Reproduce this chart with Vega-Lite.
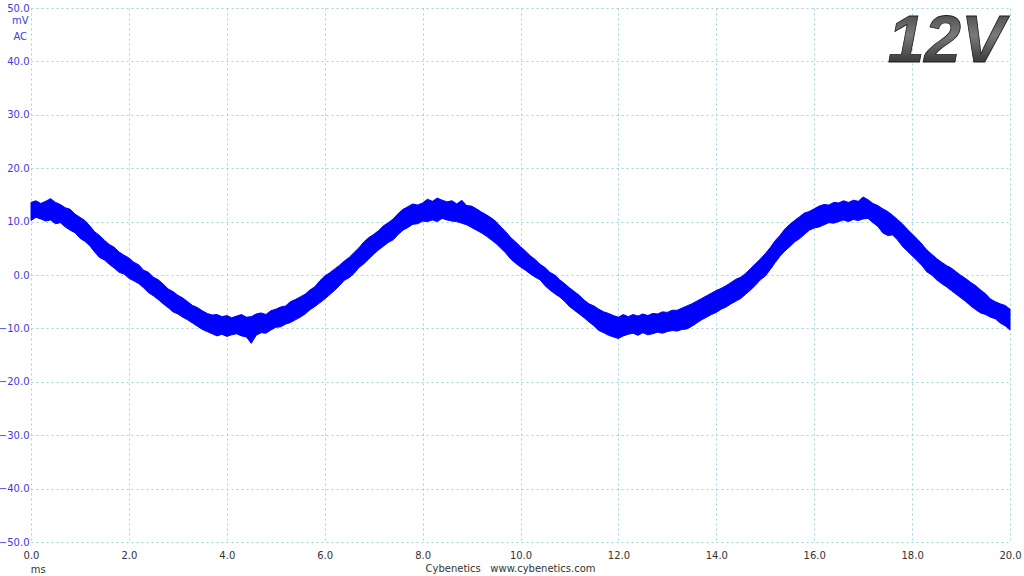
{
  "$schema": "https://vega.github.io/schema/vega-lite/v6.json",
  "width": 979,
  "height": 534,
  "autosize": {"type": "none"},
  "padding": {"left": 31, "top": 8, "right": 14, "bottom": 34},
  "background": "white",
  "config": {
    "view": {"stroke": null},
    "font": "DejaVu Sans",
    "axis": {
      "grid": true,
      "gridColor": "#9fd3df",
      "gridDash": [2, 3],
      "gridWidth": 1,
      "domain": false,
      "ticks": false,
      "labelFont": "DejaVu Sans",
      "labelFontSize": 10
    }
  },
  "layer": [
    {
      "data": {"values": [
        {"t":0.0,"hi":13.6,"lo":10.2},{"t":0.1,"hi":13.9,"lo":10.8},{"t":0.2,"hi":13.4,"lo":10.5},{"t":0.3,"hi":13.8,"lo":10.1},{"t":0.4,"hi":14.3,"lo":10.3},
        {"t":0.5,"hi":13.6,"lo":9.6},{"t":0.6,"hi":13.2,"lo":9.8},{"t":0.7,"hi":12.6,"lo":9.0},{"t":0.8,"hi":12.3,"lo":8.4},{"t":0.9,"hi":11.4,"lo":7.9},
        {"t":1.0,"hi":10.8,"lo":6.9},{"t":1.1,"hi":10.2,"lo":6.3},{"t":1.2,"hi":9.2,"lo":5.5},{"t":1.3,"hi":8.1,"lo":4.3},{"t":1.4,"hi":7.4,"lo":3.3},
        {"t":1.5,"hi":6.5,"lo":2.8},{"t":1.6,"hi":5.7,"lo":2.0},{"t":1.7,"hi":5.2,"lo":1.3},{"t":1.8,"hi":4.3,"lo":0.5},{"t":1.9,"hi":3.7,"lo":0.2},
        {"t":2.0,"hi":3.2,"lo":-0.6},{"t":2.1,"hi":2.4,"lo":-1.1},{"t":2.2,"hi":1.9,"lo":-1.6},{"t":2.3,"hi":0.9,"lo":-2.4},{"t":2.4,"hi":0.5,"lo":-3.3},
        {"t":2.5,"hi":-0.4,"lo":-3.9},{"t":2.6,"hi":-0.9,"lo":-4.6},{"t":2.7,"hi":-1.7,"lo":-5.4},{"t":2.8,"hi":-2.6,"lo":-6.1},{"t":2.9,"hi":-3.1,"lo":-6.9},
        {"t":3.0,"hi":-3.8,"lo":-7.3},{"t":3.1,"hi":-4.3,"lo":-7.9},{"t":3.2,"hi":-5.0,"lo":-8.4},{"t":3.3,"hi":-5.7,"lo":-9.0},{"t":3.4,"hi":-6.1,"lo":-9.6},
        {"t":3.5,"hi":-6.7,"lo":-10.2},{"t":3.6,"hi":-7.2,"lo":-10.6},{"t":3.7,"hi":-7.5,"lo":-11.0},{"t":3.8,"hi":-7.4,"lo":-11.4},{"t":3.9,"hi":-7.8,"lo":-11.1},
        {"t":4.0,"hi":-7.6,"lo":-11.5},{"t":4.1,"hi":-8.0,"lo":-11.2},{"t":4.2,"hi":-7.7,"lo":-11.0},{"t":4.3,"hi":-7.4,"lo":-11.4},{"t":4.4,"hi":-7.9,"lo":-11.6},
        {"t":4.5,"hi":-7.8,"lo":-12.8},{"t":4.6,"hi":-7.3,"lo":-11.3},{"t":4.7,"hi":-7.1,"lo":-10.8},{"t":4.8,"hi":-7.4,"lo":-10.9},{"t":4.9,"hi":-6.7,"lo":-10.3},
        {"t":5.0,"hi":-6.4,"lo":-9.8},{"t":5.1,"hi":-6.0,"lo":-9.7},{"t":5.2,"hi":-5.8,"lo":-9.2},{"t":5.3,"hi":-5.0,"lo":-8.9},{"t":5.4,"hi":-4.6,"lo":-8.4},
        {"t":5.5,"hi":-4.1,"lo":-7.9},{"t":5.6,"hi":-3.6,"lo":-7.3},{"t":5.7,"hi":-2.8,"lo":-6.5},{"t":5.8,"hi":-2.2,"lo":-5.9},{"t":5.9,"hi":-1.1,"lo":-5.2},
        {"t":6.0,"hi":-0.2,"lo":-4.5},{"t":6.1,"hi":0.4,"lo":-3.7},{"t":6.2,"hi":1.1,"lo":-2.9},{"t":6.3,"hi":1.8,"lo":-2.0},{"t":6.4,"hi":2.6,"lo":-1.0},
        {"t":6.5,"hi":3.3,"lo":-0.5},{"t":6.6,"hi":4.2,"lo":0.3},{"t":6.7,"hi":5.1,"lo":1.4},{"t":6.8,"hi":6.2,"lo":2.1},{"t":6.9,"hi":7.0,"lo":3.0},
        {"t":7.0,"hi":7.6,"lo":3.9},{"t":7.1,"hi":8.3,"lo":4.7},{"t":7.2,"hi":9.2,"lo":5.4},{"t":7.3,"hi":9.8,"lo":6.1},{"t":7.4,"hi":10.5,"lo":6.6},
        {"t":7.5,"hi":11.5,"lo":7.6},{"t":7.6,"hi":12.3,"lo":8.4},{"t":7.7,"hi":12.8,"lo":8.9},{"t":7.8,"hi":13.3,"lo":9.5},{"t":7.9,"hi":13.1,"lo":9.6},
        {"t":8.0,"hi":13.5,"lo":10.1},{"t":8.1,"hi":14.2,"lo":10.0},{"t":8.2,"hi":13.8,"lo":10.3},{"t":8.3,"hi":14.4,"lo":10.0},{"t":8.4,"hi":14.0,"lo":10.6},
        {"t":8.5,"hi":13.7,"lo":10.3},{"t":8.6,"hi":13.9,"lo":10.1},{"t":8.7,"hi":13.3,"lo":10.0},{"t":8.8,"hi":14.0,"lo":9.7},{"t":8.9,"hi":13.0,"lo":9.4},
        {"t":9.0,"hi":12.9,"lo":8.9},{"t":9.1,"hi":12.4,"lo":8.4},{"t":9.2,"hi":11.8,"lo":7.9},{"t":9.3,"hi":11.3,"lo":7.3},{"t":9.4,"hi":10.7,"lo":6.6},
        {"t":9.5,"hi":10.0,"lo":5.9},{"t":9.6,"hi":9.0,"lo":5.0},{"t":9.7,"hi":8.1,"lo":4.1},{"t":9.8,"hi":7.0,"lo":3.0},{"t":9.9,"hi":6.2,"lo":2.2},
        {"t":10.0,"hi":5.3,"lo":1.5},{"t":10.1,"hi":4.5,"lo":0.9},{"t":10.2,"hi":3.6,"lo":0.2},{"t":10.3,"hi":2.9,"lo":-0.4},{"t":10.4,"hi":2.0,"lo":-0.9},
        {"t":10.5,"hi":1.4,"lo":-2.0},{"t":10.6,"hi":0.5,"lo":-2.8},{"t":10.7,"hi":0.0,"lo":-3.5},{"t":10.8,"hi":-0.9,"lo":-4.1},{"t":10.9,"hi":-1.6,"lo":-4.9},
        {"t":11.0,"hi":-2.4,"lo":-5.9},{"t":11.1,"hi":-3.1,"lo":-6.6},{"t":11.2,"hi":-3.8,"lo":-7.3},{"t":11.3,"hi":-4.7,"lo":-8.0},{"t":11.4,"hi":-5.4,"lo":-8.8},
        {"t":11.5,"hi":-5.8,"lo":-9.5},{"t":11.6,"hi":-6.4,"lo":-10.4},{"t":11.7,"hi":-6.9,"lo":-10.8},{"t":11.8,"hi":-7.2,"lo":-11.3},{"t":11.9,"hi":-7.6,"lo":-11.6},
        {"t":12.0,"hi":-7.9,"lo":-11.9},{"t":12.1,"hi":-7.4,"lo":-11.4},{"t":12.2,"hi":-7.8,"lo":-11.1},{"t":12.3,"hi":-7.4,"lo":-10.9},{"t":12.4,"hi":-7.7,"lo":-11.3},
        {"t":12.5,"hi":-7.3,"lo":-10.8},{"t":12.6,"hi":-7.6,"lo":-11.2},{"t":12.7,"hi":-7.2,"lo":-11.0},{"t":12.8,"hi":-7.3,"lo":-10.7},{"t":12.9,"hi":-6.9,"lo":-10.9},
        {"t":13.0,"hi":-7.0,"lo":-10.6},{"t":13.1,"hi":-6.6,"lo":-10.4},{"t":13.2,"hi":-6.6,"lo":-10.5},{"t":13.3,"hi":-6.2,"lo":-10.2},{"t":13.4,"hi":-5.8,"lo":-10.1},
        {"t":13.5,"hi":-5.4,"lo":-9.6},{"t":13.6,"hi":-4.9,"lo":-9.0},{"t":13.7,"hi":-4.4,"lo":-8.4},{"t":13.8,"hi":-3.9,"lo":-7.9},{"t":13.9,"hi":-3.4,"lo":-7.4},
        {"t":14.0,"hi":-2.9,"lo":-7.0},{"t":14.1,"hi":-2.5,"lo":-6.4},{"t":14.2,"hi":-2.0,"lo":-6.0},{"t":14.3,"hi":-1.4,"lo":-5.4},{"t":14.4,"hi":-0.8,"lo":-4.9},
        {"t":14.5,"hi":-0.4,"lo":-4.4},{"t":14.6,"hi":0.3,"lo":-3.6},{"t":14.7,"hi":1.2,"lo":-2.8},{"t":14.8,"hi":2.1,"lo":-1.9},{"t":14.9,"hi":3.0,"lo":-0.9},
        {"t":15.0,"hi":4.0,"lo":-0.2},{"t":15.1,"hi":5.1,"lo":1.0},{"t":15.2,"hi":6.4,"lo":2.3},{"t":15.3,"hi":7.4,"lo":3.5},{"t":15.4,"hi":8.6,"lo":4.5},
        {"t":15.5,"hi":9.5,"lo":5.3},{"t":15.6,"hi":10.2,"lo":6.2},{"t":15.7,"hi":10.9,"lo":6.8},{"t":15.8,"hi":11.6,"lo":7.6},{"t":15.9,"hi":11.9,"lo":8.4},
        {"t":16.0,"hi":12.4,"lo":8.8},{"t":16.1,"hi":12.9,"lo":9.0},{"t":16.2,"hi":13.2,"lo":9.4},{"t":16.3,"hi":13.1,"lo":9.8},{"t":16.4,"hi":13.6,"lo":9.7},
        {"t":16.5,"hi":13.5,"lo":10.0},{"t":16.6,"hi":13.9,"lo":10.3},{"t":16.7,"hi":13.6,"lo":10.0},{"t":16.8,"hi":14.0,"lo":10.4},{"t":16.9,"hi":13.8,"lo":10.2},
        {"t":17.0,"hi":14.6,"lo":10.5},{"t":17.1,"hi":14.1,"lo":10.6},{"t":17.2,"hi":13.4,"lo":9.8},{"t":17.3,"hi":13.0,"lo":9.1},{"t":17.4,"hi":12.4,"lo":7.9},
        {"t":17.5,"hi":11.9,"lo":7.4},{"t":17.6,"hi":11.2,"lo":7.5},{"t":17.7,"hi":10.4,"lo":6.6},{"t":17.8,"hi":9.6,"lo":5.4},{"t":17.9,"hi":8.6,"lo":4.5},
        {"t":18.0,"hi":7.7,"lo":3.6},{"t":18.1,"hi":6.8,"lo":2.7},{"t":18.2,"hi":5.8,"lo":1.8},{"t":18.3,"hi":4.7,"lo":0.6},{"t":18.4,"hi":3.9,"lo":0.0},
        {"t":18.5,"hi":3.1,"lo":-0.9},{"t":18.6,"hi":2.4,"lo":-1.6},{"t":18.7,"hi":1.8,"lo":-2.2},{"t":18.8,"hi":1.3,"lo":-2.9},{"t":18.9,"hi":0.6,"lo":-3.6},
        {"t":19.0,"hi":-0.1,"lo":-4.3},{"t":19.1,"hi":-0.7,"lo":-5.0},{"t":19.2,"hi":-1.4,"lo":-5.8},{"t":19.3,"hi":-2.0,"lo":-6.5},{"t":19.4,"hi":-2.8,"lo":-7.1},
        {"t":19.5,"hi":-3.5,"lo":-7.4},{"t":19.6,"hi":-4.5,"lo":-7.9},{"t":19.7,"hi":-5.0,"lo":-8.2},{"t":19.8,"hi":-5.4,"lo":-9.0},{"t":19.9,"hi":-5.7,"lo":-9.5},
        {"t":20.0,"hi":-6.4,"lo":-10.3}
      ]},
      "mark": {"type": "area", "color": "#0000ff", "stroke": "#0000ff", "strokeWidth": 1, "opacity": 1},
      "encoding": {
        "x": {
          "field": "t", "type": "quantitative",
          "scale": {"domain": [0, 20], "nice": false, "zero": false},
          "axis": {
            "values": [0, 2, 4, 6, 8, 10, 12, 14, 16, 18, 20],
            "format": ".1f",
            "labelColor": "#333333",
            "labelPadding": 8,
            "labelFlush": false,
            "title": "Cybenetics\u00a0\u00a0\u00a0www.cybenetics.com",
            "titleFont": "DejaVu Sans",
            "titleFontSize": 10,
            "titleFontWeight": "normal",
            "titleColor": "#333333",
            "titlePadding": 3,
            "titleX": 479
          }
        },
        "y": {
          "field": "hi", "type": "quantitative",
          "scale": {"domain": [-50, 50], "nice": false, "zero": false},
          "axis": {
            "values": [-50, -40, -30, -20, -10, 0, 10, 20, 30, 40, 50],
            "format": ".1f",
            "labelColor": "#3b3be6",
            "labelPadding": 2,
            "labelFlush": false,
            "title": null
          }
        },
        "y2": {"field": "lo"}
      }
    },
    {
      "data": {"values": [{}]},
      "mark": {"type": "text", "text": "mV", "font": "DejaVu Sans", "fontWeight": "normal", "fontSize": 10, "color": "#3b3be6", "align": "center", "baseline": "middle"},
      "encoding": {"x": {"datum": -0.22}, "y": {"datum": 47.5}}
    },
    {
      "data": {"values": [{}]},
      "mark": {"type": "text", "text": "AC", "font": "DejaVu Sans", "fontWeight": "normal", "fontSize": 10, "color": "#3b3be6", "align": "center", "baseline": "middle"},
      "encoding": {"x": {"datum": -0.22}, "y": {"datum": 44.5}}
    },
    {
      "data": {"values": [{}]},
      "mark": {"type": "text", "text": "ms", "font": "DejaVu Sans", "fontWeight": "normal", "fontSize": 10, "color": "#333333", "align": "center", "baseline": "middle"},
      "encoding": {"x": {"datum": 0.15}, "y": {"datum": -55.3}}
    },
    {
      "data": {"values": [{}]},
      "mark": {
        "type": "text", "text": "12V", "font": "Liberation Sans", "fontSize": 66, "fontWeight": "bold", "fontStyle": "italic",
        "color": {"gradient": "linear", "x1": 0, "y1": 0, "x2": 0, "y2": 1, "stops": [{"offset": 0, "color": "#3a3a3a"}, {"offset": 0.45, "color": "#7a7a7a"}, {"offset": 1, "color": "#1c1c1c"}]},
        "stroke": "#1a1a1a", "strokeWidth": 0.8, "align": "right", "baseline": "alphabetic"
      },
      "encoding": {"x": {"datum": 19.9}, "y": {"datum": 39.9}}
    }
  ]
}
